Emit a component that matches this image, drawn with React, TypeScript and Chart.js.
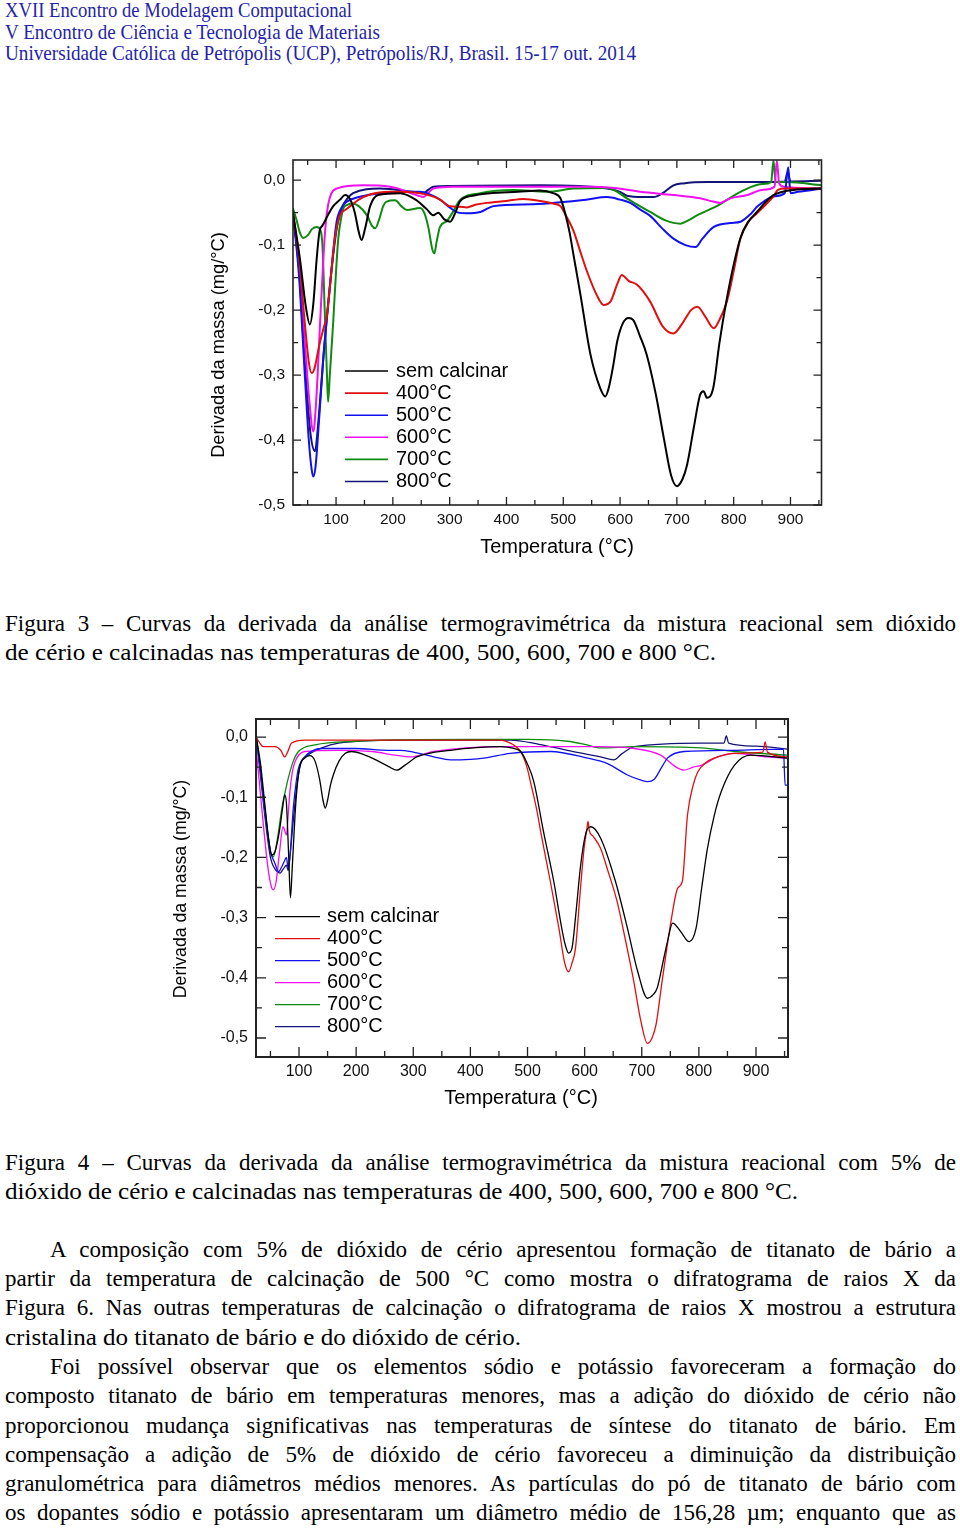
import React, { useEffect, useLayoutEffect, useRef } from "react";
import { Chart, registerables } from "chart.js";

Chart.register(...registerables);

// ---------------- DATA ----------------
type P = [number, number];

const seriesNames = ["sem calcinar", "400°C", "500°C", "600°C", "700°C", "800°C"];
const seriesColors = ["#000000", "#e01010", "#1010f0", "#f010f0", "#108a10", "#141478"];

const xTickValues = [100, 200, 300, 400, 500, 600, 700, 800, 900];
const xMinorValues = [50, 150, 250, 350, 450, 550, 650, 750, 850, 950];
const yTickValues = [-0.5, -0.4, -0.3, -0.2, -0.1, 0.0];
const yMinorValues = [-0.45, -0.35, -0.25, -0.15, -0.05];

// Figura 3
const f3Sem: P[] = [[24,-0.05],[37,-0.125],[46,-0.19],[54,-0.222],[60,-0.19],[66,-0.12],[71,-0.078],[76,-0.07],[85,-0.055],[95,-0.04],[107,-0.03],[116,-0.023],[125,-0.03],[133,-0.05],[140,-0.08],[145,-0.092],[151,-0.075],[160,-0.04],[174,-0.023],[213,-0.02],[240,-0.03],[260,-0.045],[271,-0.054],[280,-0.05],[290,-0.06],[301,-0.064],[310,-0.05],[318,-0.033],[340,-0.024],[371,-0.02],[420,-0.018],[459,-0.016],[482,-0.02],[495,-0.028],[503,-0.05],[511,-0.08],[518,-0.115],[530,-0.175],[548,-0.269],[565,-0.32],[574,-0.333],[580,-0.32],[588,-0.285],[595,-0.248],[605,-0.22],[615,-0.212],[623,-0.215],[635,-0.24],[647,-0.269],[663,-0.33],[677,-0.397],[690,-0.455],[700,-0.471],[710,-0.46],[718,-0.438],[730,-0.38],[741,-0.33],[747,-0.325],[753,-0.335],[764,-0.32],[775,-0.25],[788,-0.182],[800,-0.13],[812,-0.089],[825,-0.065],[841,-0.049],[855,-0.035],[870,-0.023],[905,-0.015],[955,-0.013]];
const f3T400: P[] = [[24,-0.05],[35,-0.12],[45,-0.22],[52,-0.28],[57,-0.297],[62,-0.29],[68,-0.265],[72,-0.248],[78,-0.228],[84,-0.207],[89,-0.166],[94,-0.12],[98,-0.089],[103,-0.065],[107,-0.054],[112,-0.048],[116,-0.046],[125,-0.04],[140,-0.03],[160,-0.022],[195,-0.018],[248,-0.02],[270,-0.025],[283,-0.03],[300,-0.04],[318,-0.041],[330,-0.042],[345,-0.038],[365,-0.035],[400,-0.032],[430,-0.029],[460,-0.032],[482,-0.036],[495,-0.04],[505,-0.055],[518,-0.078],[530,-0.11],[542,-0.141],[559,-0.177],[571,-0.192],[583,-0.187],[595,-0.16],[603,-0.146],[615,-0.155],[630,-0.161],[653,-0.187],[675,-0.225],[694,-0.236],[710,-0.22],[725,-0.2],[736,-0.195],[750,-0.21],[765,-0.228],[775,-0.215],[788,-0.187],[800,-0.14],[812,-0.089],[825,-0.065],[841,-0.051],[870,-0.025],[878,-0.015],[890,-0.013],[955,-0.013]];
const f3T500: P[] = [[24,-0.05],[35,-0.15],[45,-0.3],[52,-0.4],[57,-0.445],[60,-0.456],[64,-0.44],[70,-0.37],[78,-0.269],[89,-0.166],[95,-0.11],[101,-0.064],[110,-0.042],[119,-0.033],[140,-0.026],[177,-0.02],[248,-0.018],[265,-0.022],[283,-0.03],[300,-0.042],[315,-0.05],[330,-0.051],[354,-0.049],[377,-0.04],[447,-0.037],[495,-0.034],[540,-0.03],[577,-0.026],[600,-0.03],[618,-0.035],[635,-0.045],[653,-0.055],[675,-0.075],[694,-0.09],[715,-0.1],[733,-0.103],[745,-0.09],[765,-0.072],[794,-0.066],[812,-0.064],[830,-0.052],[841,-0.041],[853,-0.033],[870,-0.025],[890,-0.02],[896,0.02],[900,-0.02],[913,-0.018],[955,-0.013]];
const f3T600: P[] = [[24,-0.05],[35,-0.13],[45,-0.25],[53,-0.34],[60,-0.387],[65,-0.34],[72,-0.218],[78,-0.115],[82,-0.065],[86,-0.038],[92,-0.02],[101,-0.013],[148,-0.008],[195,-0.01],[210,-0.013],[225,-0.018],[245,-0.024],[254,-0.026],[262,-0.02],[271,-0.013],[306,-0.01],[459,-0.01],[548,-0.01],[590,-0.012],[636,-0.018],[694,-0.023],[741,-0.028],[764,-0.033],[776,-0.035],[794,-0.028],[824,-0.023],[850,-0.015],[872,-0.01],[876,0.03],[880,-0.005],[888,-0.01],[955,-0.013]];
const f3T700: P[] = [[24,-0.043],[30,-0.06],[36,-0.08],[42,-0.089],[50,-0.085],[58,-0.075],[66,-0.072],[72,-0.076],[76,-0.1],[80,-0.2],[84,-0.3],[86,-0.341],[89,-0.3],[95,-0.218],[100,-0.14],[104,-0.089],[109,-0.058],[113,-0.043],[120,-0.038],[128,-0.036],[140,-0.04],[155,-0.055],[163,-0.07],[169,-0.074],[176,-0.06],[183,-0.04],[189,-0.033],[204,-0.031],[215,-0.04],[225,-0.046],[248,-0.043],[256,-0.052],[263,-0.075],[269,-0.105],[273,-0.113],[277,-0.095],[283,-0.072],[295,-0.063],[305,-0.05],[318,-0.031],[354,-0.02],[412,-0.015],[471,-0.018],[518,-0.013],[577,-0.012],[595,-0.018],[612,-0.028],[653,-0.049],[680,-0.062],[706,-0.067],[720,-0.062],[736,-0.054],[770,-0.04],[812,-0.018],[850,-0.006],[866,-0.003],[870,0.03],[874,-0.003],[894,-0.003],[955,-0.008]];
const f3T800: P[] = [[24,-0.05],[35,-0.14],[45,-0.28],[55,-0.39],[63,-0.417],[68,-0.38],[78,-0.269],[86,-0.19],[95,-0.115],[102,-0.07],[110,-0.043],[120,-0.028],[130,-0.02],[177,-0.013],[236,-0.018],[254,-0.02],[262,-0.015],[271,-0.01],[300,-0.009],[459,-0.008],[577,-0.013],[600,-0.018],[612,-0.024],[640,-0.026],[659,-0.026],[675,-0.02],[694,-0.008],[711,-0.005],[753,-0.003],[853,-0.003],[890,-0.002],[895,0.012],[900,-0.002],[955,-0.001]];

// Figura 4
const f4Sem: P[] = [[25,0],[32,-0.04],[40,-0.11],[47,-0.17],[52,-0.196],[58,-0.19],[65,-0.16],[71,-0.12],[75,-0.096],[78,-0.11],[82,-0.2],[85,-0.267],[88,-0.22],[93,-0.13],[97,-0.08],[102,-0.047],[110,-0.035],[119,-0.031],[128,-0.04],[136,-0.07],[142,-0.105],[146,-0.118],[150,-0.105],[155,-0.08],[160,-0.063],[170,-0.04],[181,-0.027],[192,-0.024],[210,-0.028],[228,-0.035],[257,-0.049],[271,-0.055],[285,-0.047],[298,-0.038],[306,-0.033],[365,-0.022],[453,-0.016],[476,-0.019],[488,-0.024],[500,-0.045],[511,-0.074],[528,-0.157],[546,-0.24],[560,-0.318],[566,-0.345],[572,-0.359],[578,-0.35],[585,-0.29],[593,-0.213],[602,-0.16],[611,-0.149],[628,-0.168],[654,-0.24],[675,-0.318],[693,-0.39],[710,-0.434],[720,-0.428],[727,-0.417],[738,-0.37],[745,-0.34],[754,-0.309],[768,-0.323],[783,-0.34],[795,-0.318],[805,-0.25],[815,-0.185],[827,-0.13],[839,-0.091],[862,-0.047],[891,-0.03],[955,-0.035]];
const f4T400: P[] = [[25,0],[30,-0.008],[37,-0.016],[58,-0.016],[68,-0.022],[75,-0.033],[80,-0.025],[87,-0.01],[110,-0.005],[300,-0.005],[453,-0.005],[470,-0.01],[480,-0.016],[488,-0.024],[499,-0.05],[505,-0.074],[517,-0.125],[523,-0.157],[540,-0.24],[555,-0.318],[565,-0.375],[572,-0.39],[578,-0.375],[584,-0.351],[592,-0.26],[599,-0.185],[604,-0.152],[606,-0.14],[608,-0.155],[615,-0.165],[628,-0.185],[640,-0.22],[657,-0.274],[672,-0.34],[686,-0.406],[698,-0.47],[710,-0.509],[718,-0.5],[725,-0.478],[735,-0.41],[751,-0.307],[763,-0.251],[771,-0.24],[780,-0.13],[790,-0.08],[798,-0.058],[813,-0.042],[827,-0.035],[862,-0.027],[912,-0.025],[916,-0.008],[920,-0.025],[955,-0.033]];
const f4T500: P[] = [[25,0],[32,-0.05],[40,-0.12],[50,-0.19],[58,-0.21],[64,-0.224],[70,-0.215],[75,-0.205],[78,-0.2],[81,-0.218],[84,-0.2],[90,-0.118],[95,-0.075],[99,-0.052],[110,-0.033],[140,-0.019],[198,-0.019],[256,-0.022],[277,-0.022],[300,-0.025],[336,-0.033],[365,-0.038],[400,-0.037],[423,-0.035],[470,-0.027],[540,-0.024],[605,-0.035],[640,-0.044],[675,-0.063],[700,-0.072],[710,-0.074],[722,-0.07],[735,-0.05],[745,-0.035],[774,-0.024],[862,-0.022],[948,-0.02],[951,-0.08],[956,-0.08]];
const f4T600: P[] = [[25,-0.02],[30,-0.07],[38,-0.15],[46,-0.22],[52,-0.25],[55,-0.254],[60,-0.24],[66,-0.19],[72,-0.149],[76,-0.158],[78,-0.163],[81,-0.13],[84,-0.091],[88,-0.06],[93,-0.041],[110,-0.024],[169,-0.022],[228,-0.024],[268,-0.03],[295,-0.033],[336,-0.024],[453,-0.016],[570,-0.016],[628,-0.016],[687,-0.019],[733,-0.03],[760,-0.05],[774,-0.055],[790,-0.05],[804,-0.047],[833,-0.033],[862,-0.027],[920,-0.033],[955,-0.035]];
const f4T700: P[] = [[25,0],[32,-0.05],[40,-0.12],[48,-0.18],[55,-0.199],[62,-0.17],[70,-0.118],[76,-0.09],[81,-0.069],[90,-0.04],[99,-0.024],[128,-0.013],[198,-0.007],[400,-0.004],[500,-0.004],[570,-0.007],[600,-0.012],[628,-0.018],[687,-0.016],[804,-0.018],[862,-0.024],[955,-0.03]];
const f4T800: P[] = [[25,0],[32,-0.06],[40,-0.13],[50,-0.2],[60,-0.222],[67,-0.226],[72,-0.22],[78,-0.213],[81,-0.222],[84,-0.2],[92,-0.118],[97,-0.075],[102,-0.047],[116,-0.03],[140,-0.018],[169,-0.01],[277,-0.005],[470,-0.005],[520,-0.012],[570,-0.022],[628,-0.033],[651,-0.038],[665,-0.028],[687,-0.016],[804,-0.01],[844,-0.01],[848,0.002],[852,-0.01],[900,-0.015],[955,-0.02]];

const fig3Series = [f3Sem, f3T400, f3T500, f3T600, f3T700, f3T800];
const fig4Series = [f4Sem, f4T400, f4T500, f4T600, f4T700, f4T800];

const yTitle = "Derivada da massa (mg/°C)";
const xTitle = "Temperatura (°C)";

const headerLines = [
  "XVII Encontro de Modelagem Computacional",
  "V Encontro de Ciência e Tecnologia de Materiais",
  "Universidade Católica de Petrópolis (UCP), Petrópolis/RJ, Brasil. 15-17 out. 2014",
];
const caption3 = [
  "Figura 3 – Curvas da derivada da análise termogravimétrica da mistura reacional sem dióxido",
  "de cério e calcinadas nas temperaturas de 400, 500, 600, 700 e 800 °C.",
];
const caption4 = [
  "Figura 4 – Curvas da derivada da análise termogravimétrica da mistura reacional com 5% de",
  "dióxido de cério e calcinadas nas temperaturas de 400, 500, 600, 700 e 800 °C.",
];
const bodyLines = [
  "A composição com 5% de dióxido de cério apresentou formação de titanato de bário a",
  "partir da temperatura de calcinação de 500 °C como mostra o difratograma de raios X da",
  "Figura 6. Nas outras temperaturas de calcinação o difratograma de raios X mostrou a estrutura",
  "cristalina do titanato de bário e do dióxido de cério.",
  "Foi possível observar que os elementos sódio e potássio favoreceram a formação do",
  "composto titanato de bário em temperaturas menores, mas a adição do dióxido de cério não",
  "proporcionou mudança significativas nas temperaturas de síntese do titanato de bário. Em",
  "compensação a adição de 5% de dióxido de cério favoreceu a diminuição da distribuição",
  "granulométrica para diâmetros médios menores. As partículas do pó de titanato de bário com",
  "os dopantes sódio e potássio apresentaram um diâmetro médio de 156,28 µm; enquanto que as",
];

// ---------------- CHART ----------------
const SANS = "'Liberation Sans', Arial, sans-serif";
const SERIF = "'Liberation Serif', 'Times New Roman', serif";

type ChartCfg = {
  left: number; top: number; w: number; h: number;
  yAxisW: number; xAxisH: number; padTop: number; padRight: number;
  xMin: number; xMax: number; yMin: number; yMax: number;
  lineW: number; frameW: number; majorLen: number; minorLen: number;
  tickFont: number; xLabelPad: number;
  legX0: number; legX1: number; legTextX: number; legY0: number; legGap: number; legFont: number; legLineW: number;
  yTitleDx: number; yTitleDy: number; yTitleFont: number;
  xTitleDx: number; xTitleDy: number; xTitleFont: number;
};

const cfg3: ChartCfg = {
  left: 150, top: 150, w: 700, h: 420,
  yAxisW: 143, xAxisH: 65, padTop: 10, padRight: 28.5,
  xMin: 24.2, xMax: 954.6, yMin: -0.5, yMax: 0.031,
  lineW: 2, frameW: 1.6, majorLen: 8, minorLen: 5,
  tickFont: 15.5, xLabelPad: 5,
  legX0: 52, legX1: 95, legTextX: 103, legY0: 211, legGap: 22.1, legFont: 20, legLineW: 1.6,
  yTitleDx: -74, yTitleDy: 185, yTitleFont: 18.3,
  xTitleDx: 264, xTitleDy: 42, xTitleFont: 20,
};

const cfg4: ChartCfg = {
  left: 140, top: 705, w: 680, h: 420,
  yAxisW: 116, xAxisH: 68, padTop: 14, padRight: 32,
  xMin: 24.7, xMax: 956, yMin: -0.5316, yMax: 0.03,
  lineW: 1.3, frameW: 2, majorLen: 10, minorLen: 6,
  tickFont: 16, xLabelPad: 5,
  legX0: 19, legX1: 64, legTextX: 71, legY0: 197.7, legGap: 22, legFont: 20, legLineW: 1.3,
  yTitleDx: -75, yTitleDy: 170, yTitleFont: 17.7,
  xTitleDx: 265, xTitleDy: 41, xTitleFont: 20,
};

function makeDecor(c: ChartCfg) {
  return {
    id: "decor",
    afterDatasetsDraw(chart: any) {
      const { ctx, chartArea: a, scales } = chart;
      const x = scales.x, y = scales.y;
      ctx.save();
      ctx.strokeStyle = "#222";
      ctx.lineWidth = c.frameW;
      ctx.strokeRect(a.left, a.top, a.right - a.left, a.bottom - a.top);
      ctx.lineWidth = 1.3;
      ctx.beginPath();
      const xt = (vals: number[], len: number) => vals.forEach((v) => {
        const px = x.getPixelForValue(v);
        if (px < a.left || px > a.right) return;
        ctx.moveTo(px, a.bottom); ctx.lineTo(px, a.bottom - len);
        ctx.moveTo(px, a.top); ctx.lineTo(px, a.top + len);
      });
      const yt = (vals: number[], len: number) => vals.forEach((v) => {
        const py = y.getPixelForValue(v);
        if (py < a.top || py > a.bottom) return;
        ctx.moveTo(a.left, py); ctx.lineTo(a.left + len, py);
        ctx.moveTo(a.right, py); ctx.lineTo(a.right - len, py);
      });
      xt(xTickValues, c.majorLen); xt(xMinorValues, c.minorLen);
      yt(yTickValues, c.majorLen); yt(yMinorValues, c.minorLen);
      ctx.stroke();
      ctx.font = `${c.legFont}px ${SANS}`;
      ctx.textBaseline = "middle";
      ctx.textAlign = "left";
      seriesNames.forEach((name, i) => {
        const yy = a.top + c.legY0 + i * c.legGap;
        ctx.strokeStyle = seriesColors[i];
        ctx.lineWidth = c.legLineW;
        ctx.beginPath();
        ctx.moveTo(a.left + c.legX0, yy); ctx.lineTo(a.left + c.legX1, yy);
        ctx.stroke();
        ctx.fillStyle = "#000";
        ctx.fillText(name, a.left + c.legTextX, yy);
      });
      ctx.fillStyle = "#000";
      ctx.textAlign = "center";
      ctx.font = `${c.xTitleFont}px ${SANS}`;
      ctx.fillText(xTitle, a.left + c.xTitleDx, a.bottom + c.xTitleDy);
      ctx.translate(a.left + c.yTitleDx, a.top + c.yTitleDy);
      ctx.rotate(-Math.PI / 2);
      ctx.font = `${c.yTitleFont}px ${SANS}`;
      ctx.fillText(yTitle, 0, 0);
      ctx.restore();
    },
  };
}

const zeroPad = (s: any) => { s.paddingTop = 0; s.paddingBottom = 0; s.paddingLeft = 0; s.paddingRight = 0; };

function DtgChart({ c, series }: { c: ChartCfg; series: P[][] }) {
  const ref = useRef<HTMLCanvasElement>(null);
  useEffect(() => {
    if (!ref.current) return;
    const chart = new Chart(ref.current, {
      type: "line",
      data: {
        datasets: series.map((s, i) => ({
          label: seriesNames[i],
          data: s.map(([tx, v]) => ({ x: tx, y: v })),
          borderColor: seriesColors[i],
          borderWidth: c.lineW,
          pointRadius: 0,
          fill: false,
          cubicInterpolationMode: "monotone" as const,
        })),
      },
      options: {
        animation: false,
        responsive: false,
        maintainAspectRatio: false,
        events: [],
        layout: { padding: { left: 0, top: c.padTop, right: c.padRight, bottom: 0 } },
        plugins: { legend: { display: false }, tooltip: { enabled: false }, title: { display: false } },
        scales: {
          x: {
            type: "linear",
            min: c.xMin, max: c.xMax,
            afterBuildTicks: (s: any) => { s.ticks = xTickValues.map((v) => ({ value: v })); },
            afterFit: (s: any) => { s.height = c.xAxisH; zeroPad(s); },
            grid: { display: false, drawTicks: false },
            border: { display: false },
            ticks: { padding: c.xLabelPad, color: "#111", font: { family: SANS, size: c.tickFont }, maxRotation: 0, autoSkip: false, callback: (v: any) => String(v) },
          },
          y: {
            type: "linear",
            min: c.yMin, max: c.yMax,
            afterBuildTicks: (s: any) => { s.ticks = yTickValues.map((v) => ({ value: v })); },
            afterFit: (s: any) => { s.width = c.yAxisW; zeroPad(s); },
            grid: { display: false, drawTicks: false },
            border: { display: false },
            ticks: { padding: 8, color: "#111", font: { family: SANS, size: c.tickFont }, autoSkip: false, callback: (v: any) => Number(v).toFixed(1).replace(".", ",") },
          },
        },
      },
      plugins: [makeDecor(c)],
    });
    return () => chart.destroy();
  }, [c, series]);
  return (
    <canvas
      ref={ref}
      width={c.w}
      height={c.h}
      style={{ position: "absolute", left: c.left, top: c.top, width: c.w, height: c.h }}
    />
  );
}

// ---------------- TEXT ----------------
type LineProps = {
  text: string; left: number; baseline: number; width: number; size: number;
  family: string; color: string; mode: "justify" | "fit" | "none"; ascent: number;
};

function TextLine({ text, left, baseline, width, size, family, color, mode, ascent }: LineProps) {
  const ref = useRef<HTMLSpanElement>(null);
  useLayoutEffect(() => {
    const el = ref.current;
    if (!el) return;
    el.style.wordSpacing = "0px";
    el.style.transform = "none";
    const natural = el.getBoundingClientRect().width;
    if (mode === "justify") {
      const spaces = (text.match(/ /g) || []).length;
      if (spaces > 0) el.style.wordSpacing = `${(width - natural) / spaces}px`;
    } else if (mode === "fit") {
      el.style.transform = `scaleX(${width / natural})`;
    }
  }, [text, width, mode, size]);
  return (
    <span
      ref={ref}
      style={{
        position: "absolute", left, top: baseline - ascent * size, fontSize: size, lineHeight: 1,
        whiteSpace: "pre", fontFamily: family, color, transformOrigin: "0 0",
      }}
    >
      {text}
    </span>
  );
}

const SERIF_ASC = 0.8375;

export default function App() {
  const headerBase = [18.3, 39.6, 60.8];
  const headerW = [347, 375, 631];
  const bodyBase0 = 1257;
  const bodyStep = 29.3;
  const bodyIndent = [true, false, false, false, true, false, false, false, false, false];
  const bodyLastLine = [false, false, false, true, false, false, false, false, false, false];

  return (
    <div style={{ position: "absolute", left: 0, top: 0, width: 960, height: 1528, background: "#fff", overflow: "hidden" }}>
      {headerLines.map((t, i) => (
        <TextLine key={"h" + i} text={t} left={5} baseline={headerBase[i]} width={headerW[i]} size={21.5}
          family={SERIF} color="#2424a8" mode="fit" ascent={SERIF_ASC} />
      ))}
      <DtgChart c={cfg3} series={fig3Series} />
      <TextLine text={caption3[0]} left={5} baseline={631.5} width={951} size={23} family={SERIF} color="#000" mode="justify" ascent={SERIF_ASC} />
      <TextLine text={caption3[1]} left={5} baseline={660.5} width={711} size={23} family={SERIF} color="#000" mode="fit" ascent={SERIF_ASC} />
      <DtgChart c={cfg4} series={fig4Series} />
      <TextLine text={caption4[0]} left={5} baseline={1170} width={951} size={23} family={SERIF} color="#000" mode="justify" ascent={SERIF_ASC} />
      <TextLine text={caption4[1]} left={5} baseline={1199} width={793} size={23} family={SERIF} color="#000" mode="fit" ascent={SERIF_ASC} />
      {bodyLines.map((t, i) => (
        <TextLine key={"b" + i} text={t} left={bodyIndent[i] ? 50 : 5} baseline={bodyBase0 + i * bodyStep}
          width={bodyLastLine[i] ? 516 : bodyIndent[i] ? 906 : 951} size={23} family={SERIF} color="#000"
          mode={bodyLastLine[i] ? "fit" : "justify"} ascent={SERIF_ASC} />
      ))}
    </div>
  );
}
